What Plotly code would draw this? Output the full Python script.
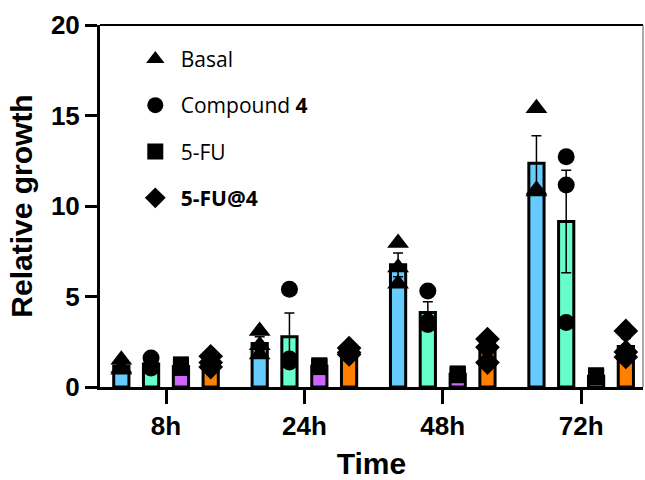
import numpy as np
import plotly.graph_objects as go

# Time points on the x axis
timepoints = ["8h", "24h", "48h", "72h"]

# Relative growth, three replicates per time point
basal = [[1.5, 1.05, 0.95], [3.1, 2.3, 1.8], [7.95, 6.6, 5.7], [15.4, 10.9, 10.8]]
compound4 = [[1.6, 1.15, 1.05], [5.4, 1.55, 1.38], [5.3, 3.6, 3.45], [12.72, 11.16, 3.56]]
fu5 = [[1.25, 1.1, 1.05], [1.2, 1.1, 1.15], [0.7, 0.75, 0.65], [0.55, 0.6, 0.65]]
fu5_at4 = [[1.7, 1.35, 1.1], [2.15, 1.9, 1.8], [2.65, 2.2, 1.35], [3.1, 1.94, 1.66]]

y_ticks = [0, 5, 10, 15, 20]

groups = [
    ("Basal", basal, "#66CCFF", "triangle-up", 19),
    ("Compound <b>4</b>", compound4, "#66FFCC", "circle", 17),
    ("5-FU", fu5, "#CC66FF", "square", 16),
    ("<b>5-FU@4</b>", fu5_at4, "#FF8000", "diamond", 19),
]
offsets = [-0.323, -0.108, 0.108, 0.323]
bar_w = 0.11

fig = go.Figure()
base_x = np.arange(len(timepoints))

# Mean bars with SEM error bars
for (name, reps, color, sym, msize), off in zip(groups, offsets):
    arr = np.array(reps, dtype=float)
    mean = arr.mean(axis=1)
    sem = arr.std(axis=1, ddof=1) / np.sqrt(arr.shape[1])
    fig.add_trace(go.Bar(
        x=base_x + off, y=mean, width=bar_w,
        marker=dict(color=color, line=dict(color="black", width=3)),
        error_y=dict(type="data", array=sem, visible=True,
                     color="black", thickness=1.5, width=5),
        showlegend=False,
    ))

# Individual replicates drawn over the bars
for i, ((name, reps, color, sym, msize), off) in enumerate(zip(groups, offsets)):
    arr = np.array(reps, dtype=float)
    xs = np.repeat(base_x + off, arr.shape[1])
    fig.add_trace(go.Scatter(
        x=xs, y=arr.ravel(), mode="markers",
        marker=dict(symbol=sym, size=msize, color="black"),
        name="\u00a0" + name, legendgroup=f"g{i}",
    ))

axis_font = dict(family="Liberation Sans, Arial", size=26, color="black", weight="bold")
title_font = dict(family="Liberation Sans, Arial", size=30, color="black", weight="bold")

fig.update_layout(
    width=645, height=480,
    margin=dict(l=100, r=2, t=25, b=93),
    paper_bgcolor="white", plot_bgcolor="white",
    barmode="overlay",
    showlegend=True,
    legend=dict(
        x=0.065, y=0.962, xanchor="left", yanchor="top",
        font=dict(family="Open Sans", size=21, color="black"),
        tracegroupgap=16, bgcolor="rgba(0,0,0,0)",
        itemsizing="trace",
    ),
    xaxis=dict(
        range=[-0.477, 3.447], tickmode="array", tickvals=list(base_x),
        ticktext=timepoints, ticks="outside", ticklen=14, tickwidth=2.5,
        tickcolor="black", showline=True, linecolor="black", linewidth=3,
        showgrid=False, zeroline=False, tickfont=axis_font, automargin=False,
        title=dict(text="Time", font=title_font, standoff=20),
    ),
    yaxis=dict(
        range=[0, 20], tickmode="array", tickvals=y_ticks,
        ticks="outside", ticklen=12, tickwidth=2.5, tickcolor="black",
        showline=True, linecolor="black", linewidth=3, automargin=False,
        showgrid=False, zeroline=False, tickfont=axis_font,
        title=dict(text="Relative growth", font=title_font, standoff=10),
    ),
    shapes=[
        dict(type="line", xref="paper", yref="paper", x0=0, x1=1, y0=1, y1=1,
             line=dict(color="black", width=2)),
        dict(type="line", xref="paper", yref="paper", x0=1, x1=1, y0=0, y1=1,
             line=dict(color="#555555", width=1)),
    ],
)

fig.write_html("out.html")
